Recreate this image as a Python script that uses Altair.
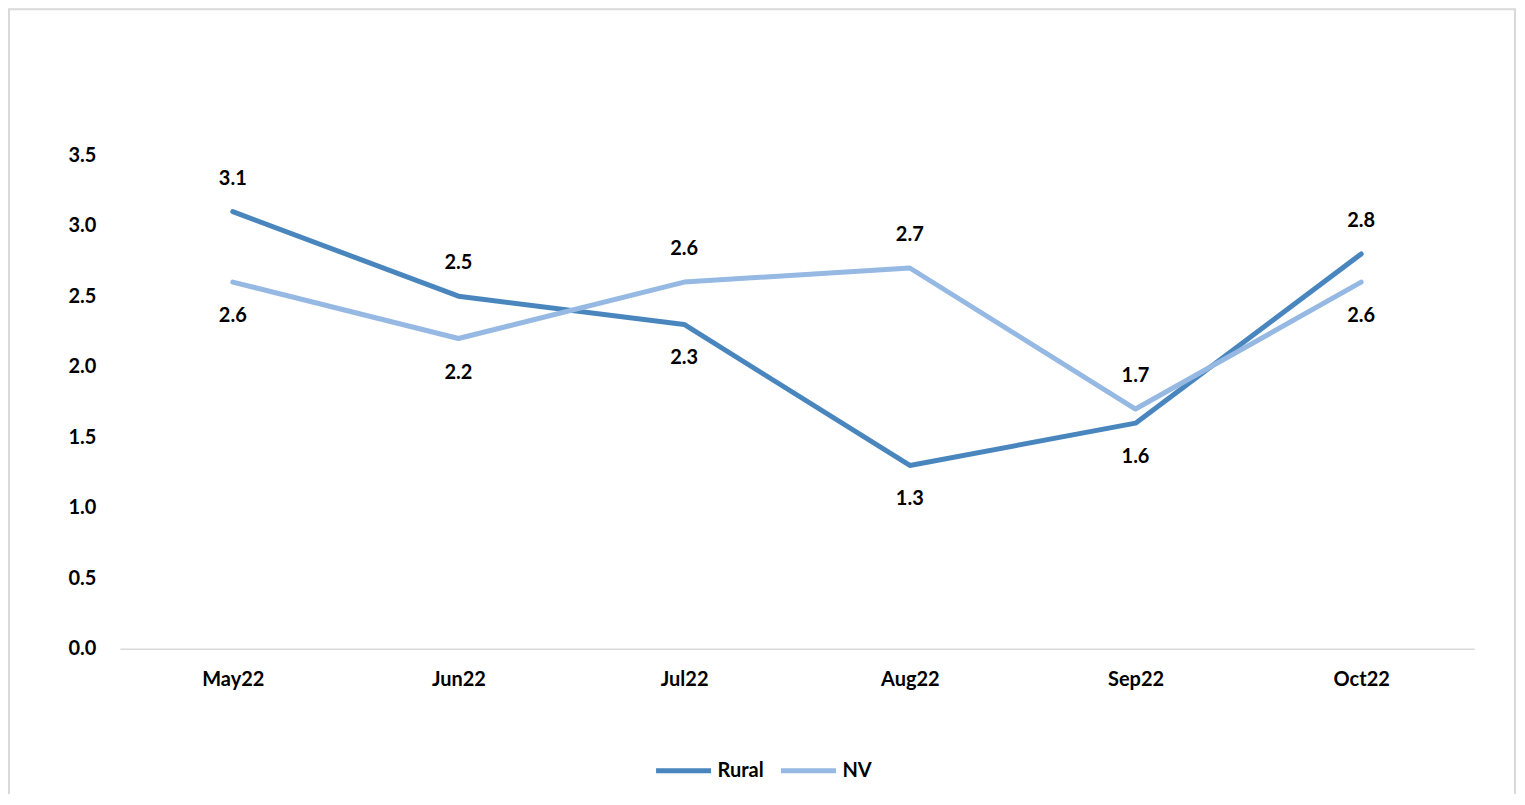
import altair as alt
import pandas as pd

months = ["May22", "Jun22", "Jul22", "Aug22", "Sep22", "Oct22"]
rural = [3.1, 2.5, 2.3, 1.3, 1.6, 2.8]
nv = [2.6, 2.2, 2.6, 2.7, 1.7, 2.6]
rural_label_side = ["above", "above", "below", "below", "below", "above"]
nv_label_side = ["below", "below", "above", "above", "above", "below"]
series_names = ["Rural", "NV"]
series_colors = ["#4a86be", "#95b9e2"]
y_ticks = [0.0, 0.5, 1.0, 1.5, 2.0, 2.5, 3.0, 3.5]

rows = []
for m, v, s in zip(months, rural, rural_label_side):
    rows.append({"month": m, "value": v, "series": "Rural", "side": s})
for m, v, s in zip(months, nv, nv_label_side):
    rows.append({"month": m, "value": v, "series": "NV", "side": s})
df = pd.DataFrame(rows)

FONT = "Lato"
FS = 20
W, H = 1355, 494

x_enc = alt.X("month:N", sort=months,
              scale=alt.Scale(type="point", padding=0.5),
              axis=alt.Axis(title=None, labelAngle=0, ticks=False, grid=False,
                            domain=True, domainColor="#d9d9d9", domainWidth=1.5,
                            labelPadding=21, labelFontSize=FS, labelFontWeight="bold",
                            labelFont=FONT, labelColor="black"))
y_enc = alt.Y("value:Q",
              scale=alt.Scale(domain=[0, 3.5], nice=False, zero=True),
              axis=alt.Axis(title=None, values=y_ticks, format=".1f", ticks=False,
                            grid=False, domain=False, labelPadding=24,
                            labelFontSize=FS, labelFontWeight="bold", labelFont=FONT,
                            labelColor="black"))

base = alt.Chart(df)

frame = alt.Chart(pd.DataFrame({"a": [0]})).mark_rect(
    fill=None, stroke="#d9d9d9", strokeWidth=2
).encode(x=alt.value(-111), x2=alt.value(1396), y=alt.value(-146), y2=alt.value(700))

lines = base.mark_line(strokeWidth=5, strokeCap="round", strokeJoin="round").encode(
    x=x_enc, y=y_enc,
    color=alt.Color("series:N",
                    scale=alt.Scale(domain=series_names, range=series_colors),
                    legend=alt.Legend(title=None, orient="none", direction="horizontal",
                                      legendX=534, legendY=586,
                                      symbolType="stroke", symbolSize=3025,
                                      symbolStrokeWidth=5, labelFontSize=FS,
                                      labelFont=FONT, labelFontWeight="bold",
                                      labelColor="black", labelOffset=4,
                                      columnPadding=6)),
    detail="series:N",
)

above = base.transform_filter(alt.datum.side == "above").mark_text(
    dy=-33, fontSize=FS, fontWeight="bold", font=FONT, color="black", baseline="middle"
).encode(x=x_enc, y=y_enc, text=alt.Text("value:Q", format=".1f"))

below = base.transform_filter(alt.datum.side == "below").mark_text(
    dy=34, fontSize=FS, fontWeight="bold", font=FONT, color="black", baseline="middle"
).encode(x=x_enc, y=y_enc, text=alt.Text("value:Q", format=".1f"))

chart = alt.layer(frame, lines, above, below).properties(
    width=W, height=H,
    autosize=alt.AutoSizeParams(type="none"),
    padding={"left": 112, "top": 147, "right": 43, "bottom": 145},
).configure(background="white").configure_view(stroke="transparent", strokeWidth=0)

chart.save("out.html", embed_options={"renderer": "svg", "actions": False})
